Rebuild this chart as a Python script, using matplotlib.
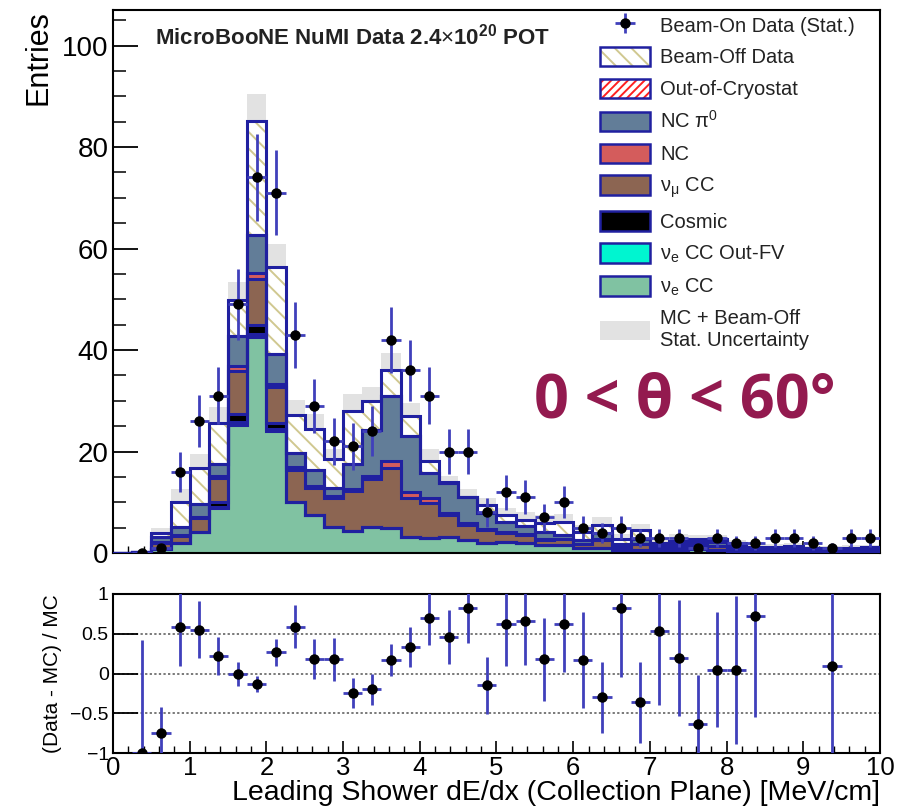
import numpy as np
import matplotlib.pyplot as plt
from matplotlib.patches import Patch
from matplotlib.ticker import MultipleLocator

plt.rcParams['font.family'] = ['Liberation Sans', 'DejaVu Sans']
plt.rcParams['mathtext.fontset'] = 'custom'
plt.rcParams['mathtext.rm'] = 'Liberation Sans'
plt.rcParams['mathtext.it'] = 'Liberation Sans:italic'
plt.rcParams['mathtext.bf'] = 'Liberation Sans:bold'
plt.rcParams['hatch.linewidth'] = 1.4

# 40 bins of 0.25 MeV/cm from 0 to 10
edges = np.linspace(0, 10, 41)

ve_cc = [0, 0.1, 0.8, 2.0, 4.2, 8.9, 25.2, 42.5, 24.1, 10.1, 7.5, 5.2, 4.4, 5.2, 4.9, 3.2, 2.9, 3.2, 2.6, 2.0,
         2.2, 2.0, 1.6, 1.6, 1.0, 1.0, 0.5, 0.6, 0.5, 0.6, 0.8, 0.6, 0.4, 0.3, 0.3, 0.3, 0.2, 0.2, 0.2, 0.2]
ve_outfv = [0, 0, 0, 0, 0, 0.2, 0.6, 0.7, 0.3, 0, 0, 0, 0, 0, 0.1, 0, 0, 0, 0, 0,
            0, 0, 0, 0, 0, 0, 0, 0, 0, 0, 0, 0, 0, 0, 0, 0, 0, 0, 0, 0]
cosmic = [0, 0, 0, 0, 0, 1.0, 1.5, 1.7, 1.3, 0, 0, 0, 0, 0, 0, 0, 0, 0, 0, 0,
          0, 0, 0, 0, 0, 0, 0, 0, 0, 0, 0, 0, 0, 0, 0, 0, 0, 0, 0, 0]
numu_cc = [0, 0.1, 1.2, 1.4, 2.6, 4.7, 8.5, 9.0, 7.0, 6.3, 5.4, 5.6, 7.8, 9.3, 11.8, 7.6, 6.9, 4.3, 2.9, 2.5,
           1.8, 1.5, 1.0, 1.1, 0.8, 1.6, 0.6, 1.2, 0.5, 0.6, 0.7, 0.8, 0.5, 0.3, 0.3, 0.4, 0.2, 0.2, 0.3, 0.3]
nc = [0, 0, 0.2, 0.2, 0.3, 0.4, 1.0, 1.3, 0.6, 0.5, 0.3, 0.4, 0.5, 0.6, 1.3, 1.3, 1.0, 0.3, 0.4, 0.3,
      0.2, 0.2, 0.2, 0.1, 0, 0.2, 0, 0, 0, 0, 0, 0, 0, 0, 0, 0, 0, 0, 0, 0]
nc_pi0 = [0, 0, 1.0, 1.6, 2.5, 2.3, 6.0, 7.5, 6.0, 2.8, 3.2, 1.6, 4.8, 9.2, 12.9, 10.9, 4.9, 5.9, 5.2, 3.0,
          2.0, 1.6, 1.4, 0.8, 0.8, 1.2, 0.6, 0.9, 0.5, 0.6, 0.7, 0.8, 0.5, 0.3, 0.3, 0.3, 0.2, 0.2, 0.2, 0.3]
out_cryo = [0] * 40
beam_off = [0, 0, 0.8, 4.9, 7.2, 8.1, 7.0, 22.5, 17.0, 7.5, 8.1, 5.8, 10.5, 5.7, 5.1, 4.0, 2.5, 0.3, 0, 1.6,
            1.2, 1.3, 1.7, 2.5, 1.6, 1.6, 1.0, 1.8, 0.4, 0.6, 0.5, 0.6, 0.5, 0.3, 0.3, 0.3, 0.3, 0.3, 0.3, 0.3]
stat_unc = [0, 0.1, 1.0, 2.5, 2.8, 3.2, 3.6, 5.3, 4.5, 2.9, 2.8, 1.8, 3.3, 2.8, 3.3, 2.6, 2.3, 1.1, 1.6, 1.5,
            1.4, 1.4, 1.5, 1.6, 1.4, 1.4, 1.0, 1.2, 0.9, 1.3, 0.8, 0.8, 0.7, 0.6, 0.6, 0.6, 0.5, 0.5, 0.5, 0.5]

data = [0, 0, 1, 16, 26, 31, 49, 74, 71, 43, 29, 22, 21, 24, 42, 36, 31, 20, 20, 8,
        12, 11, 7, 10, 5, 4, 5, 3, 3, 3, 1, 3, 2, 2, 3, 3, 2, 1, 3, 3]

nan = np.nan
ratio = [nan, -1.0, -0.75, 0.58, 0.55, 0.22, -0.01, -0.13, 0.27, 0.59, 0.18, 0.18, -0.25, -0.2, 0.17, 0.33,
         0.7, 0.46, 0.82, -0.15, 0.62, 0.66, 0.18, 0.62, 0.17, -0.3, 0.83, -0.36, 0.53, 0.19, -0.63, 0.05,
         0.04, 0.72, nan, nan, nan, 0.1, nan, nan]
ratio_err = [nan, 1.42, 0.33, 0.48, 0.36, 0.24, 0.15, 0.10, 0.17, 0.27, 0.25, 0.27, 0.19, 0.2, 0.2, 0.25,
             0.34, 0.34, 0.44, 0.36, 0.52, 0.55, 0.52, 0.6, 0.6, 0.45, 0.87, 0.51, 0.93, 0.73, 0.61, 0.72,
             0.93, 1.27, nan, nan, nan, 1.2, nan, nan]

components = [
    (ve_cc, '#80c2a2', None, r'$\mathrm{\nu_e}$ CC'),
    (ve_outfv, '#00f5d0', None, r'$\mathrm{\nu_e}$ CC Out-FV'),
    (cosmic, '#000000', None, 'Cosmic'),
    (numu_cc, '#8c6552', None, r'$\mathrm{\nu_\mu}$ CC'),
    (nc, '#d45c5c', None, 'NC'),
    (nc_pi0, '#627d98', None, r'NC $\mathrm{\pi^0}$'),
    (out_cryo, '#ffffff', ('////', '#ff2020'), 'Out-of-Cryostat'),
    (beam_off, '#ffffff', ('\\\\', '#d0c890'), 'Beam-Off Data'),
]

edge_col = '#2020a0'
err_col = '#4040bb'

fig = plt.figure(figsize=(9.03, 8.09), dpi=100)
ax = fig.add_axes([113 / 903, 1 - 553 / 809, 767 / 903, 543 / 809])
rax = fig.add_axes([113 / 903, 1 - 753 / 809, 767 / 903, 159 / 809])

centers = 0.5 * (edges[1:] + edges[:-1])
total = np.zeros(40)
for vals, *_ in components:
    total = total + np.array(vals)

unc = np.array(stat_unc)
ax.stairs(total + unc, edges, baseline=total - unc, fill=True, color='#e2e2e2', lw=0, zorder=1)

bottom = np.zeros(40)
tops = []
for vals, col, hatch, lab in components:
    top = bottom + np.array(vals)
    if hatch is None:
        ax.stairs(top, edges, baseline=bottom, fill=True, facecolor=col, edgecolor=col, lw=0, zorder=2)
    else:
        ax.stairs(top, edges, baseline=bottom, fill=True, facecolor=col, edgecolor=hatch[1],
                  hatch=hatch[0], lw=0, zorder=2)
    tops.append(top)
    bottom = top
for top in tops:
    ax.stairs(top, edges, baseline=None, fill=False, color=edge_col, lw=2.2, zorder=3)

data = np.array(data, dtype=float)
show = total > 0
de = ax.errorbar(centers[show], data[show], yerr=np.sqrt(data[show]), xerr=0.125, fmt='o', color='black',
                 ms=6.5, ecolor=err_col, elinewidth=2, capsize=0, zorder=5)

ax.set_xlim(0, 10)
ax.set_ylim(0, 107)
ax.xaxis.set_major_locator(MultipleLocator(1))
ax.xaxis.set_minor_locator(MultipleLocator(0.2))
ax.yaxis.set_major_locator(MultipleLocator(20))
ax.yaxis.set_minor_locator(MultipleLocator(5))
ax.tick_params(axis='y', which='major', direction='in', length=18, width=1.3, labelsize=20, pad=3)
ax.tick_params(axis='y', which='minor', direction='in', length=9, width=1.1)
ax.tick_params(axis='x', which='major', direction='in', length=9, width=1.2, labelbottom=False)
ax.tick_params(axis='x', which='minor', direction='in', length=5, width=1.0)
for s in ax.spines.values():
    s.set_linewidth(1.5)
ax.set_ylabel('Entries', fontsize=22, loc='top', labelpad=6)

ax.text(0.055, 0.975, r'MicroBooNE NuMI Data 2.4$\times$10$^{\mathbf{20}}$ POT', transform=ax.transAxes,
        fontsize=16, fontweight='bold', va='top', ha='left', color='#222222')
ax.text(0.745, 0.278, '0 < θ < 60°', transform=ax.transAxes, fontsize=44, fontweight='bold',
        family=['Open Sans', 'DejaVu Sans'], color='#931a4f', ha='center', va='center')

handles = [de]
labels = ['Beam-On Data (Stat.)']
for vals, col, hatch, lab in components[::-1]:
    if hatch is None:
        h = Patch(facecolor=col, edgecolor=edge_col, lw=1.8)
    else:
        h = (Patch(facecolor=col, edgecolor=hatch[1], hatch=hatch[0], lw=0),
             Patch(facecolor='none', edgecolor=edge_col, lw=1.8))
    handles.append(h)
    labels.append(lab)
handles.append(Patch(facecolor='#e2e2e2', edgecolor='none'))
labels.append('MC + Beam-Off\nStat. Uncertainty')
leg = ax.legend(handles, labels, loc='upper left', bbox_to_anchor=(600 / 903, 1 - 15 / 809),
                bbox_transform=fig.transFigure, frameon=False, fontsize=14.5, handlelength=2.5,
                handleheight=1.1, handletextpad=0.5, labelspacing=0.56, borderpad=0, borderaxespad=0)
for t in leg.get_texts():
    t.set_color('#222222')

# ratio panel
rax.errorbar(centers, ratio, yerr=ratio_err, xerr=0.125, fmt='o', color='black', ms=6.5,
             ecolor=err_col, elinewidth=2, capsize=0, zorder=5)
for yv in (-0.5, 0, 0.5):
    rax.axhline(yv, color='#555555', ls=(0, (1.5, 1.5)), lw=1.1, zorder=1)
rax.set_xlim(0, 10)
rax.set_ylim(-1, 1)
rax.xaxis.set_major_locator(MultipleLocator(1))
rax.xaxis.set_minor_locator(MultipleLocator(0.2))
rax.set_yticks([-1, -0.5, 0, 0.5, 1])
rax.set_yticklabels(['\u22121', '\u22120.5', '0', '0.5', '1'])
rax.tick_params(axis='y', which='major', direction='in', length=18, width=1.3, labelsize=14, pad=3)
rax.tick_params(axis='x', which='major', direction='in', length=9, width=1.2, labelsize=18.5, pad=2)
rax.tick_params(axis='x', which='minor', direction='in', length=5, width=1.0)
for s in rax.spines.values():
    s.set_linewidth(1.5)
rax.set_ylabel('(Data - MC) / MC', fontsize=15, labelpad=6)
rax.set_xlabel('Leading Shower dE/dx (Collection Plane) [MeV/cm]', fontsize=20.5, loc='right', labelpad=0)

fig.savefig('out.png', dpi=100)
